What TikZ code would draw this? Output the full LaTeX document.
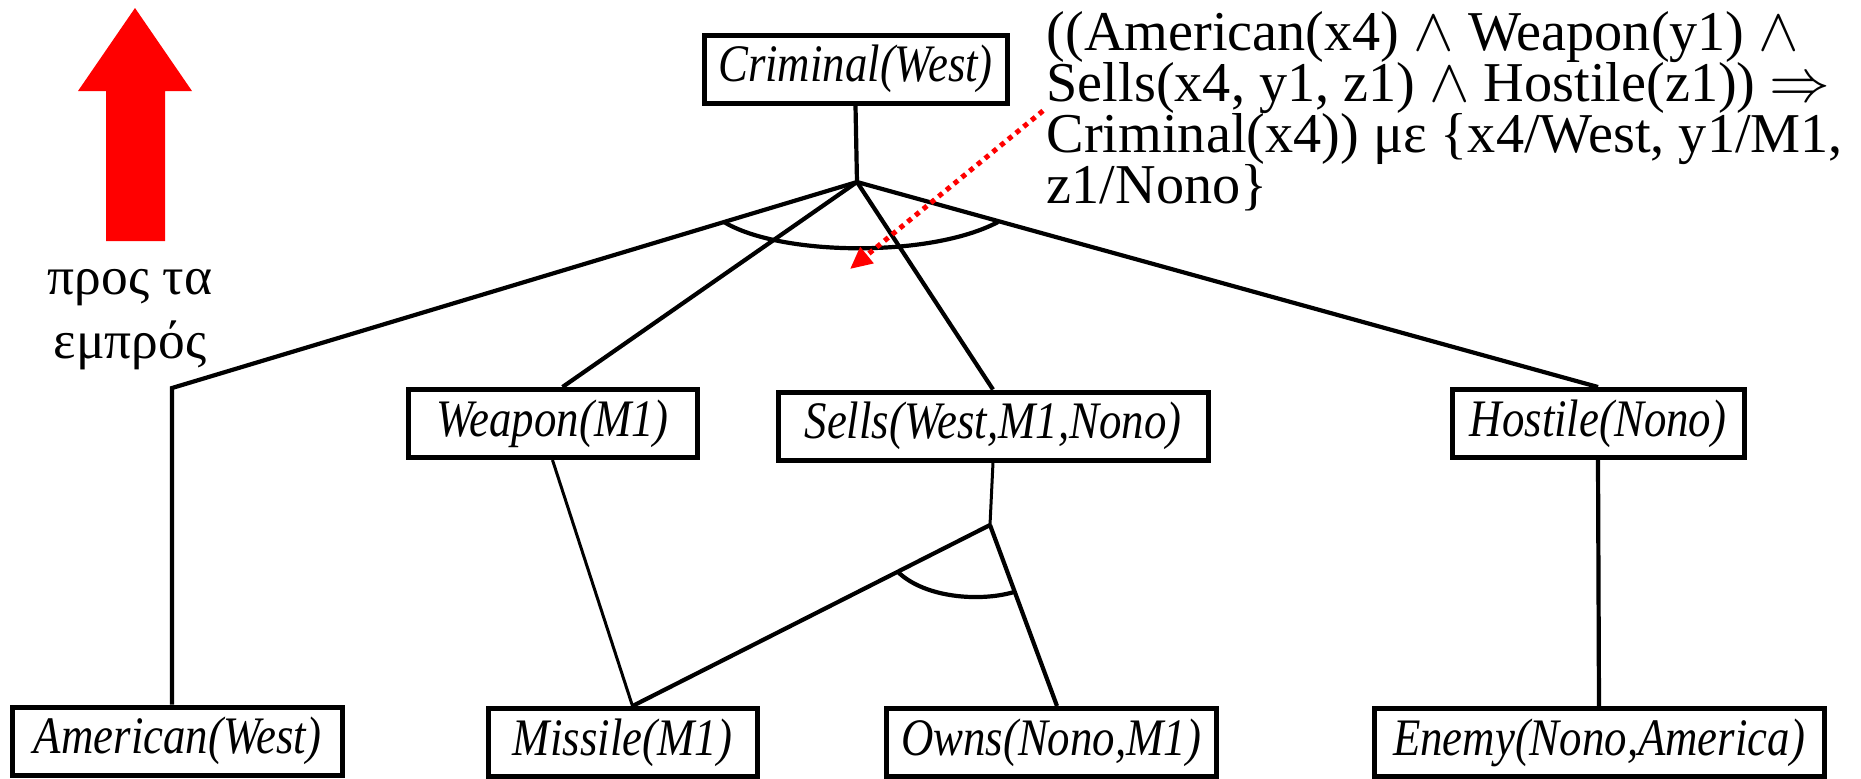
\documentclass[tikz,border=0pt]{standalone}
\usepackage{fontspec}
\setmainfont{Liberation Serif}
\newfontfamily\notefam{Liberation Serif}
\newfontfamily\factfam[FakeStretch=0.85]{Liberation Serif}
\usetikzlibrary{arrows.meta, calc}
\newcommand\notefont{\notefam\fontsize{16}{14.5}\selectfont\lineskiplimit=-20pt\relax}

\tikzset{
  fact/.style={draw, line width=0.05cm, minimum height=0.68cm, inner sep=0pt,
    font=\factfam\itshape\fontsize{15}{17}\selectfont},
  link/.style={line width=0.042cm},
  thin link/.style={line width=0.03cm},
  pointer/.style={red, line width=0.05cm, dash pattern=on 0.05cm off 0.05cm,
    -{Triangle[length=0.22cm,width=0.2cm]}},
}

\begin{document}
\begin{tikzpicture}[x=1cm,y=-1cm]
  \useasboundingbox (0,0) rectangle (18.61,7.78);
  % facts
  \node[fact, minimum width=3.03cm] (crim) at (8.555,0.69) {Criminal(West)};
  \node[fact, minimum width=2.89cm] (weap) at (5.525,4.235) {Weapon(M1)};
  \node[fact, minimum width=4.30cm] (sells) at (9.93,4.26) {Sells(West,M1,Nono)};
  \node[fact, minimum width=2.92cm] (host) at (15.98,4.235) {Hostile(Nono)};
  \node[fact, minimum width=3.29cm] (amer) at (1.775,7.41) {American(West)};
  \node[fact, minimum width=2.69cm] (miss) at (6.225,7.425) {Missile(M1)};
  \node[fact, minimum width=3.30cm] (owns) at (10.51,7.425) {Owns(Nono,M1)};
  \node[fact, minimum width=4.50cm] (enem) at (15.99,7.425) {Enemy(Nono,America)};
  % junctions
  \coordinate (J) at (8.57,1.82);
  \coordinate (L) at (1.72,3.88);
  \coordinate (K) at (9.90,5.25);
  \draw[link] (crim.south) -- (J);
  \draw[link] (J) -- (L) -- (L |- amer.north);
  \draw[link] (J) -- ([xshift=0.1cm]weap.north);
  \draw[link] (J) -- (sells.north);
  \draw[link] (J) -- (host.north);
  \draw[link] (7.24,2.22) .. controls (7.80,2.56) and (9.30,2.58) .. (9.98,2.22); % AND
  \draw[thin link] (weap.south) -- ([xshift=0.1cm]miss.north);
  \draw[thin link] (sells.south) -- (K);
  \draw[link] (K) -- ([xshift=0.1cm]miss.north);
  \draw[link] (K) -- ([xshift=0.06cm]owns.north);
  \draw[link] (8.98,5.72) .. controls (9.25,5.98) and (9.80,6.02) .. (10.14,5.92); % AND
  \draw[link] (host.south) -- (enem.north);
  % forward
  \fill[red] (1.06,2.41) -- (1.06,0.91) -- (0.78,0.91) -- (1.35,0.08)
    -- (1.92,0.91) -- (1.65,0.91) -- (1.65,2.41) -- cycle;
  \node[font=\notefam\fontsize{15.2}{18.2}\selectfont, align=center, anchor=base] (fwd)
    at (1.30,3.58) {προς τα\\εμπρός};
  % rule
  \node[font=\notefont, align=left, anchor=base west, inner sep=0pt] (note)
    at (10.46,2.03)
    {((American(x4) $\wedge$ Weapon(y1) $\wedge$\\
     Sells(x4, y1, z1) $\wedge$ Hostile(z1)) $\Rightarrow$\\
     Criminal(x4)) με \{x4/West, y1/M1,\\
     z1/Nono\}};
  \coordinate (tip) at (8.50,2.69);
  \draw[pointer] ([xshift=-0.03cm]note.west) -- (tip);
\end{tikzpicture}
\end{document}
